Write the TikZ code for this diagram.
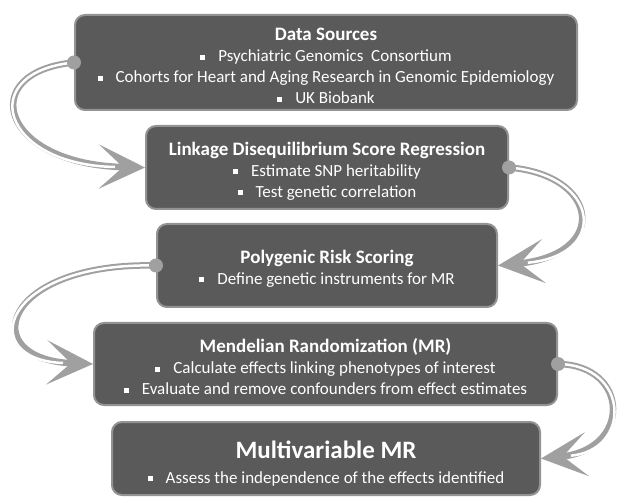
\documentclass[tikz,border=0pt]{standalone}
\usepackage{fontspec}
\setmainfont{Carlito}
\usetikzlibrary{arrows.meta}
\definecolor{boxfill}{HTML}{5A5A5A}
\definecolor{boxline}{HTML}{939393}
\definecolor{linkgray}{HTML}{A0A0A0}
\newcommand{\sqb}{\rule[0.3ex]{5pt}{5pt}\hspace{13pt}}
\newcommand{\hd}[1]{{\fontsize{19}{21}\selectfont\bfseries\rule{0pt}{20pt}#1}}
\begin{document}
\begin{tikzpicture}[x=1pt,y=1pt,
	stage/.style={draw=boxline,line width=2pt,fill=boxfill,rounded corners=10pt,text=white,align=center,inner sep=0pt,font=\fontsize{17}{21}\selectfont},
	link/.style={draw=linkgray,line width=6.5pt,-{Stealth[length=46pt,width=44pt,inset=24pt]},
		postaction={draw=white,line width=2.5pt,-,shorten >=30pt}},
	pin/.style={circle,fill=linkgray,minimum size=14pt,inner sep=0pt}]
	\useasboundingbox (0,0) rectangle (619,-497);
	% stages
	\node[stage,minimum width=502pt,minimum height=95pt] (src) at (326,-62.5) {\hd{Data Sources}\\ \sqb Psychiatric Genomics\ \ Consortium\\ \sqb Cohorts for Heart and Aging Research in Genomic Epidemiology\\ \sqb UK Biobank};
	\node[stage,minimum width=362pt,minimum height=83pt] (ldsc) at (327,-167.5) {\hd{Linkage Disequilibrium Score Regression}\\ \sqb Estimate SNP heritability\\ \sqb Test genetic correlation};
	\node[stage,minimum width=340pt,minimum height=83pt] (prs) at (327,-265.5) {\hd{Polygenic Risk Scoring}\\ \sqb Define genetic instruments for MR};
	\node[stage,minimum width=463pt,minimum height=82pt] (mr) at (325.5,-364) {\hd{Mendelian Randomization (MR)}\\ \sqb Calculate effects linking phenotypes of interest\\ \sqb Evaluate and remove confounders from effect estimates};
	\node[stage,minimum width=428pt,minimum height=73pt] (mvmr) at (326,-458.5) {{\fontsize{25}{27}\selectfont\bfseries\rule{0pt}{28pt}Multivariable MR}\\[4pt] \sqb Assess the independence of the effects identified};
	% links
	\draw[link] (src.west) .. controls (-25,-72) and (0,-165) .. (ldsc.west);
	\draw[link] (ldsc.east) .. controls (600,-175) and (610,-255) .. (prs.east);
	\draw[link] (prs.west) .. controls (0,-262) and (-25,-360) .. (mr.west);
	\draw[link] (mr.east) .. controls (630,-365) and (632,-450) .. (mvmr.east);
	\node[pin] (p1) at (src.west) {};
	\node[pin] (p2) at (ldsc.east) {};
	\node[pin] (p3) at (prs.west) {};
	\node[pin] (p4) at (mr.east) {};
\end{tikzpicture}
\end{document}
